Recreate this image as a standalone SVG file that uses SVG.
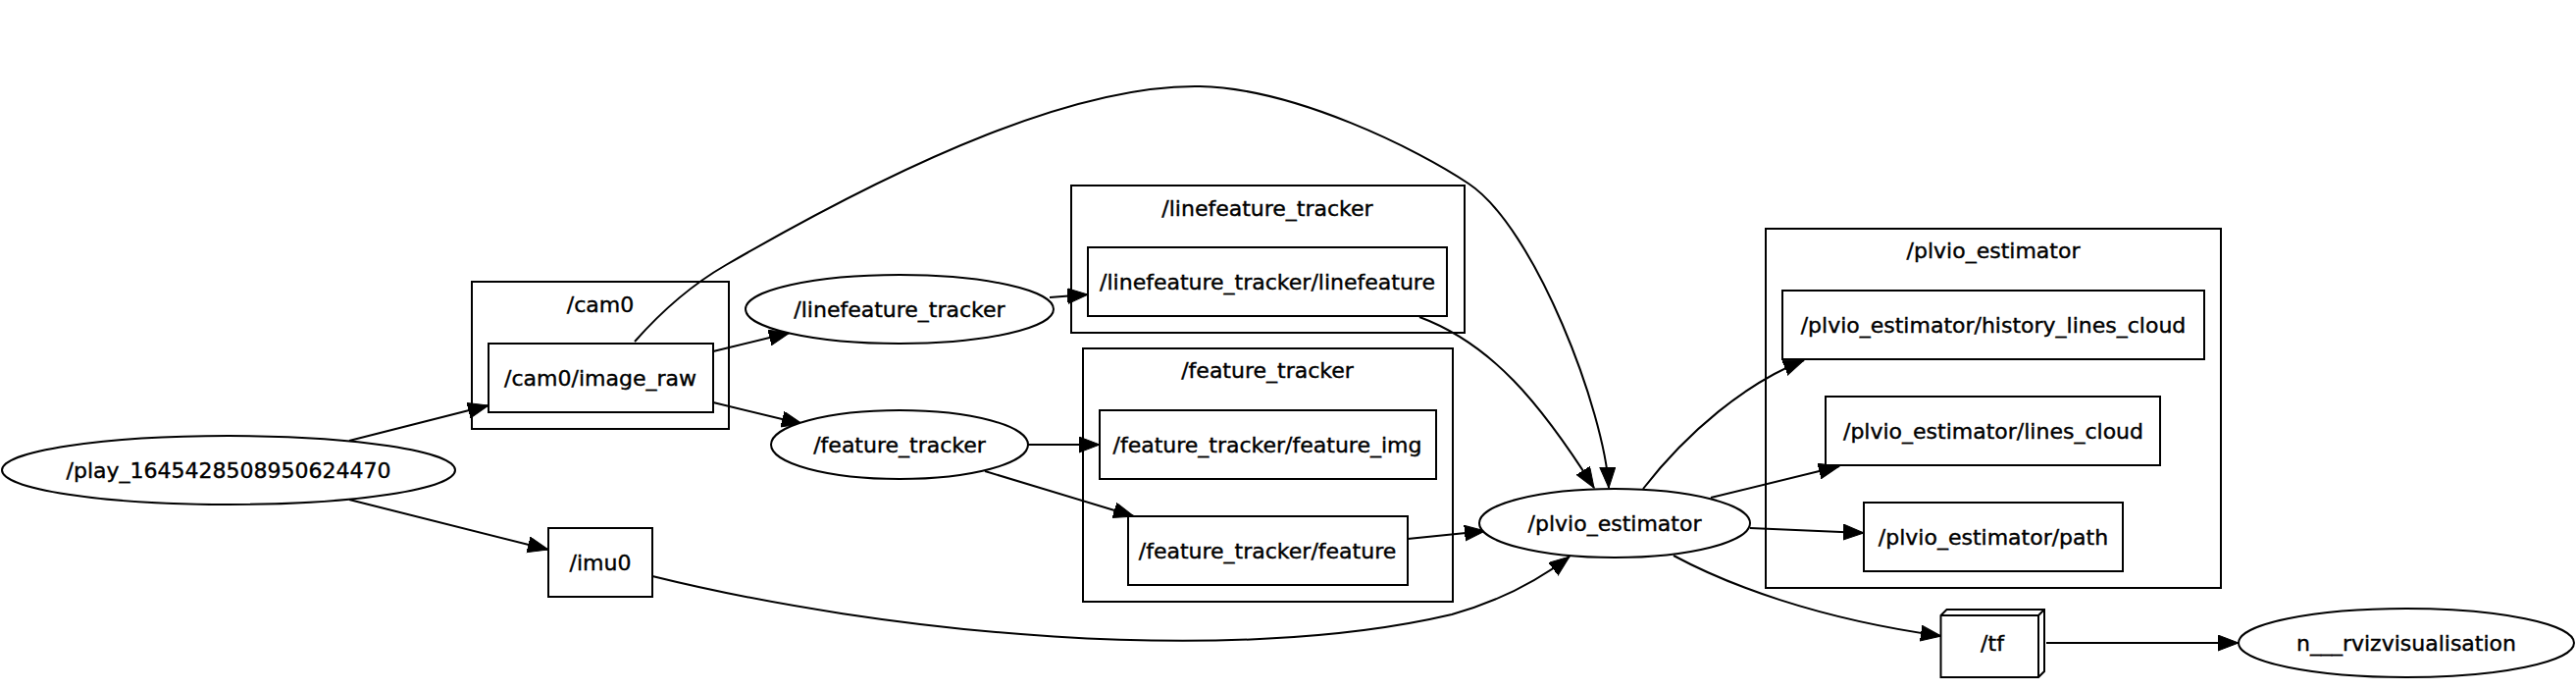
<svg xmlns="http://www.w3.org/2000/svg" width="2626" height="704" viewBox="0 0 2626 704">
<style>
text{font-family:"DejaVu Sans","Liberation Sans",sans-serif;font-size:22px;fill:#000;stroke:#000;stroke-width:0.4;text-anchor:middle}
.n{fill:#fff;stroke:#000;stroke-width:2}
.cl{fill:none;stroke:#000;stroke-width:2}
.e{fill:none;stroke:#000;stroke-width:2;marker-end:url(#ah)}
</style>
<defs>
<marker id="ah" markerUnits="userSpaceOnUse" markerWidth="24" markerHeight="20" refX="21" refY="8" orient="auto">
<path d="M0,0 L21,8 L0,16 z" fill="#000" stroke="#000" stroke-width="1"/>
</marker>
</defs>
<rect width="2626" height="704" fill="#fff"/>
<g id="cluster_cam0"><rect class="cl" x="481" y="287" width="262" height="150"/><text x="612" y="318">/cam0</text></g>
<g id="cluster_linefeature_tracker"><rect class="cl" x="1092" y="189" width="401" height="150"/><text x="1292" y="220">/linefeature_tracker</text></g>
<g id="cluster_feature_tracker"><rect class="cl" x="1104" y="355" width="377" height="258"/><text x="1292" y="385">/feature_tracker</text></g>
<g id="cluster_plvio_estimator"><rect class="cl" x="1800" y="233" width="464" height="366"/><text x="2032" y="263">/plvio_estimator</text></g>
<g id="connectors">
<path class="e" d="M356,449 L498,413"/>
<path class="e" d="M356,509 L559,560"/>
<path class="e" d="M727,358 L805,339"/>
<path class="e" d="M727,410 L818,432"/>
<path class="e" d="M1070,303 L1109,300"/>
<path class="e" d="M1048,453 L1121,453"/>
<path class="e" d="M1004,480 L1156,526"/>
<path class="e" d="M1435,549 L1514,541"/>
<path class="e" d="M1447,323 C1520,350 1570,410 1625,497"/>
<path class="e" d="M647,348 C670,322 700,293 740,270 C930,160 1100,86 1223,88 C1320,90 1445,152 1497,187 C1565,232 1636,420 1640,497"/>
<path class="e" d="M665,587 C900,645 1250,680 1480,626 C1530,612 1570,590 1600,567"/>
<path class="e" d="M1675,498 C1720,440 1780,390 1839,367"/>
<path class="e" d="M1744,507 L1875,475"/>
<path class="e" d="M1784,538 L1900,543"/>
<path class="e" d="M1706,566 C1760,595 1850,630 1979,648"/>
<path class="e" d="M2086,655 L2282,655"/>
</g>
<g id="play"><ellipse class="n" cx="233" cy="479" rx="231" ry="35"/><text x="233" y="487">/play_1645428508950624470</text></g>
<g id="cam0_image_raw"><rect class="n" x="498" y="350" width="229" height="70"/><text x="612" y="393">/cam0/image_raw</text></g>
<g id="imu0"><rect class="n" x="559" y="538" width="106" height="70"/><text x="612" y="581">/imu0</text></g>
<g id="linefeature_tracker"><ellipse class="n" cx="917" cy="315" rx="157" ry="35"/><text x="917" y="323">/linefeature_tracker</text></g>
<g id="feature_tracker"><ellipse class="n" cx="917" cy="453" rx="131" ry="35"/><text x="917" y="461">/feature_tracker</text></g>
<g id="linefeature_tracker_linefeature"><rect class="n" x="1109" y="252" width="366" height="70"/><text x="1292" y="295">/linefeature_tracker/linefeature</text></g>
<g id="feature_tracker_feature_img"><rect class="n" x="1121" y="418" width="343" height="70"/><text x="1292" y="461">/feature_tracker/feature_img</text></g>
<g id="feature_tracker_feature"><rect class="n" x="1150" y="526" width="285" height="70"/><text x="1292" y="569">/feature_tracker/feature</text></g>
<g id="plvio_estimator"><ellipse class="n" cx="1646" cy="533" rx="138" ry="35"/><text x="1646" y="541">/plvio_estimator</text></g>
<g id="plvio_history_lines_cloud"><rect class="n" x="1817" y="296" width="430" height="70"/><text x="2032" y="339">/plvio_estimator/history_lines_cloud</text></g>
<g id="plvio_lines_cloud"><rect class="n" x="1861" y="404" width="341" height="70"/><text x="2032" y="447">/plvio_estimator/lines_cloud</text></g>
<g id="plvio_path"><rect class="n" x="1900" y="512" width="264" height="70"/><text x="2032" y="555">/plvio_estimator/path</text></g>
<g id="tf"><path class="n" d="M1978.5,627 L1984.5,621 L2084,621 L2084,684 L2078,690 L1978.5,690 Z"/><path class="cl" d="M1978.5,627 L2078,627 L2078,690 M2078,627 L2084,621"/><text x="2031" y="663">/tf</text></g>
<g id="n___rvizvisualisation"><ellipse class="n" cx="2453" cy="655" rx="171" ry="35"/><text x="2453" y="663">n___rvizvisualisation</text></g>
</svg>
